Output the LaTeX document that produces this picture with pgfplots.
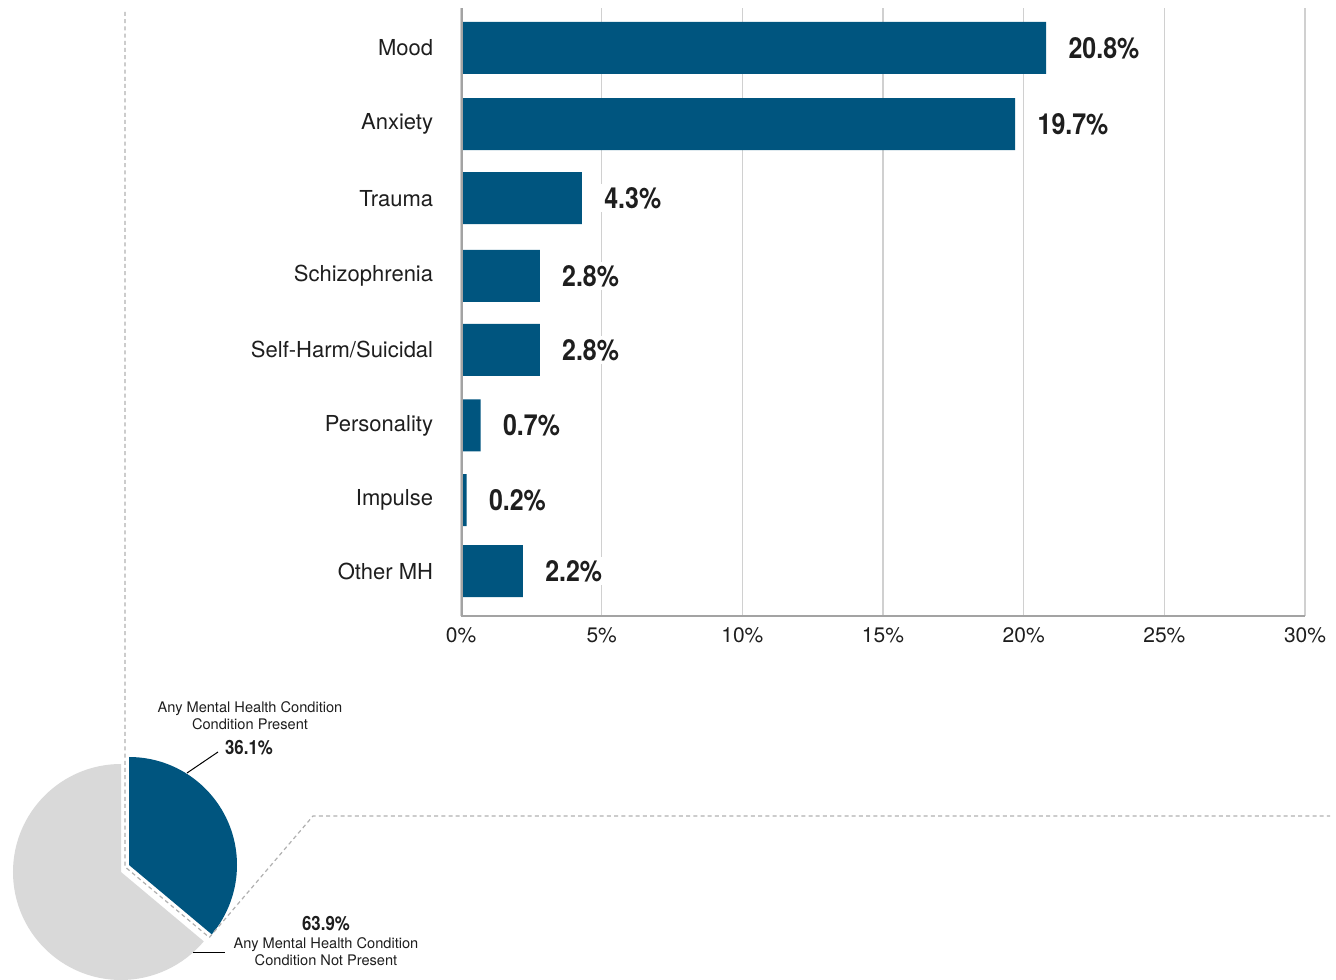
\documentclass[border=0pt]{standalone}
\usepackage{pgfplots}
\pgfplotsset{compat=1.18}
\usepackage{fontspec}
\setmainfont{TeX Gyre Heros}
\newfontfamily\condfont[FakeStretch=0.86]{TeX Gyre Heros}

\definecolor{barblue}{HTML}{00557F}
\definecolor{piegray}{HTML}{D9D9D9}
\definecolor{gridgray}{HTML}{D0D0D0}
\definecolor{axisgray}{HTML}{A3A3A3}
\definecolor{dashgray}{HTML}{B0B0B0}
\definecolor{txt}{HTML}{1E1E1E}

\begin{document}
\begin{tikzpicture}
\useasboundingbox (0,0) rectangle (668bp,490bp);

% pie shares (percent)
\pgfmathsetmacro{\present}{36.1}
\pgfmathsetmacro{\notpresent}{63.9}
\pgfmathsetmacro{\split}{90-3.6*\present}

% bar chart
\begin{axis}[
    at={(230.5bp,182bp)}, anchor=south west,
    scale only axis, width=422bp, height=304bp,
    xbar, bar width=26bp,
    xmin=0, xmax=30, ymin=-0.535, ymax=7.6, y dir=reverse,
    ytick={0,1.02,2.01,3.05,4.04,5.05,6.05,7},
    yticklabels={Mood,Anxiety,Trauma,Schizophrenia,Self-Harm/Suicidal,Personality,Impulse,Other MH},
    xtick={0,5,...,30},
    xticklabel={\pgfmathprintnumber{\tick}\%},
    /pgf/number format/assume math mode=true,
    xmajorgrids, ymajorgrids=false,
    grid style={color=gridgray, line width=0.75bp},
    axis line style={draw=none},
    tick style={draw=none},
    yticklabel style={font=\fontsize{11bp}{13bp}\selectfont, text=txt, inner sep=0pt, xshift=-9.5bp},
    xticklabel style={font=\fontsize{10.5bp}{12bp}\selectfont, text=txt, inner sep=0pt, yshift=-5.5bp},
    point meta=x,
    nodes near coords={\pgfmathprintnumber[fixed,precision=1,fixed zerofill]{\pgfplotspointmeta}\%},
    nodes near coords style={font=\condfont\bfseries\fontsize{14.5bp}{16bp}\selectfont, text=txt,
        anchor=west, fill=white, inner sep=1.5bp, xshift=9.5bp},
]
\addplot[fill=barblue, draw=none] coordinates {
    (20.8,0) (19.7,1.02) (4.3,2.01) (2.8,3.05) (2.8,4.04) (0.7,5.05) (0.2,6.05) (2.2,7)
};
\draw[axisgray, line width=1.5bp] (axis description cs:0,1) -- (axis description cs:0,0) -- (axis description cs:1,0);
\end{axis}

% pie: any mental health condition present / not present
\begin{axis}[
    at={(60.5bp,54bp)}, anchor=center,
    scale only axis, width=108bp, height=108bp,
    xmin=-1, xmax=1, ymin=-1, ymax=1,
    hide axis, clip=false,
]
\fill[piegray] (axis cs:0,0) -- ++(90:54bp) arc[start angle=90, end angle={90+3.6*\notpresent}, radius=54bp] -- cycle;
\fill[barblue] ([shift={(4bp,3.5bp)}]axis cs:0,0) -- ++(90:54bp) arc[start angle=90, end angle=\split, radius=54bp] -- cycle;
\end{axis}

% dashed outline round the exploded slice, leading to the bar chart
\draw[dashgray, line width=0.6bp, dash pattern=on 2bp off 1.6bp]
    (62.5bp,484bp) -- (62.5bp,56.6bp) -- ++(\split:55bp)
    -- (156.5bp,82bp) -- (665bp,82bp);

% leader lines and pie labels
\draw[black, line width=0.5bp] (93.5bp,103.5bp) -- (109bp,114bp);
\draw[black, line width=0.5bp] (96.5bp,13.5bp) -- (112.5bp,13.5bp);
\node[font=\fontsize{7.3bp}{8.5bp}\selectfont, text=txt, align=center] at (125bp,132bp)
    {Any Mental Health Condition\\Condition Present};
\node[font=\condfont\bfseries\fontsize{9.8bp}{11bp}\selectfont, text=txt] at (124.5bp,116bp) {36.1\%};
\node[font=\condfont\bfseries\fontsize{9.8bp}{11bp}\selectfont, text=txt] at (163bp,28bp) {63.9\%};
\node[font=\fontsize{7.3bp}{8.5bp}\selectfont, text=txt, align=center] at (163bp,14bp)
    {Any Mental Health Condition\\Condition Not Present};
\end{tikzpicture}
\end{document}
